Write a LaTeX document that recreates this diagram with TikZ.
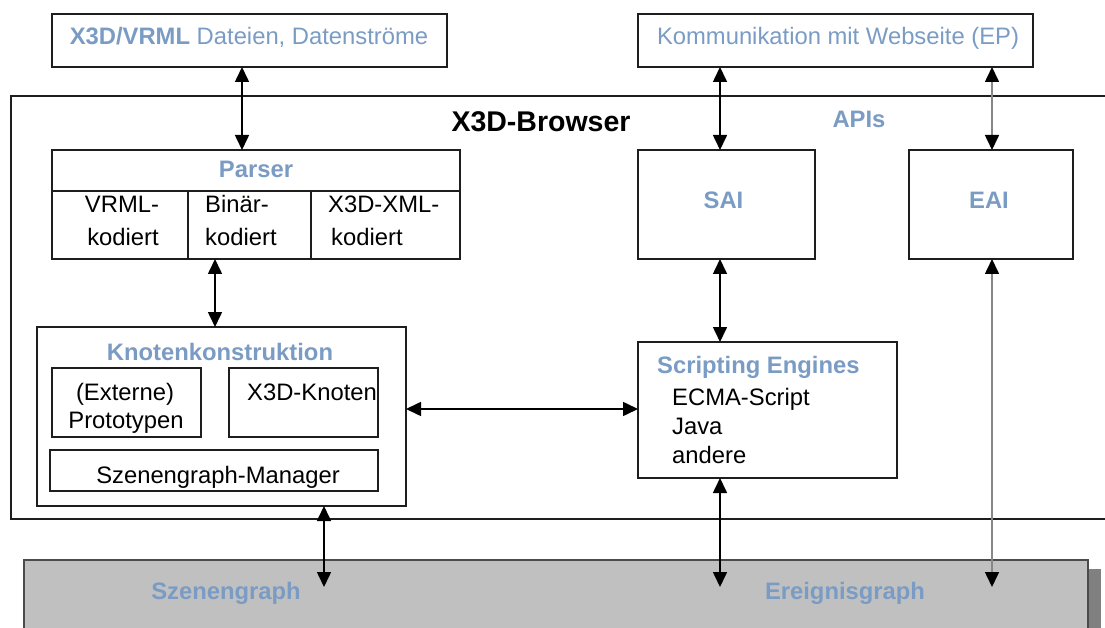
\documentclass[tikz,border=0pt]{standalone}
\usepackage{fontspec}
\setmainfont{Liberation Sans}
\usetikzlibrary{arrows.meta}
\definecolor{apiblue}{RGB}{122,156,196}
\definecolor{boxline}{RGB}{30,30,30}
\definecolor{bandfill}{RGB}{192,192,192}
\definecolor{bandshadow}{RGB}{128,128,128}
\definecolor{greyline}{RGB}{135,135,135}
\begin{document}
\begin{tikzpicture}[x=1pt,y=-1pt,
  box/.style={draw=boxline,line width=1.3pt,fill=white,inner sep=0pt,outer sep=0pt},
  txt/.style={inner sep=0pt,font=\fontsize{23.8}{28}\selectfont,text=black},
  btxt/.style={inner sep=0pt,font=\fontsize{23.8}{28}\selectfont\bfseries,text=apiblue},
  ltxt/.style={inner sep=0pt,font=\fontsize{23.8}{28}\selectfont,text=apiblue},
  biarrow/.style={line width=1.6pt,{Triangle[width=14pt,length=15pt,color=black]}-{Triangle[width=14pt,length=15pt,color=black]}},
  greyarrow/.style={biarrow,draw=greyline}]
\useasboundingbox (0,0) rectangle (1105,628);
\fill[white] (0,0) rectangle (1105,628);

% browser frame (open to the right)
\draw[boxline,line width=1.3pt] (1106,96) -- (11,96) -- (11,519) -- (1106,519);
\node[inner sep=0pt,font=\fontsize{28.5}{32}\selectfont\bfseries,anchor=base] (browser) at (541,132) {X3D-Browser};
\node[btxt,anchor=base] (apis) at (859,128) {APIs};

% external sources
\node[box,minimum width=395pt,minimum height=53pt] (files) at (249.5,40.5) {};
\node[ltxt,anchor=base] (filestxt) at (249,45) {\textbf{X3D/VRML} Dateien, Datenströme};
\node[box,minimum width=395pt,minimum height=53pt] (web) at (835.5,40.5) {};
\node[ltxt,anchor=base] (webtxt) at (838,45) {Kommunikation mit Webseite (EP)};

% parser
\node[box,minimum width=408pt,minimum height=109pt] (parser) at (256,204.5) {};
\draw[boxline,line width=1.3pt] (52,191) -- (460,191);
\draw[boxline,line width=1.3pt] (188,191) -- (188,259);
\draw[boxline,line width=1.3pt] (311,191) -- (311,259);
\draw[boxline,line width=2.8pt] (52,190) -- (52,259.6);
\node[btxt,anchor=base] (parsertxt) at (256,178) {Parser};
\node[txt,anchor=base] (vrmlA) at (122,213) {VRML-};
\node[txt,anchor=base] (vrmlB) at (123,246) {kodiert};
\node[txt,anchor=base west] (binA) at (205,213) {Binär-};
\node[txt,anchor=base west] (binB) at (205,246) {kodiert};
\node[txt,anchor=base west] (xmlA) at (328,213) {X3D-XML-};
\node[txt,anchor=base west] (xmlB) at (331,246) {kodiert};

% API boxes
\node[box,minimum width=177pt,minimum height=109pt] (sai) at (726.5,204.5) {};
\node[btxt,anchor=base] (saitxt) at (723.5,209) {SAI};
\node[box,minimum width=164pt,minimum height=109pt] (eai) at (991,204.5) {};
\node[btxt,anchor=base] (eaitxt) at (989,209) {EAI};

% node construction
\node[box,minimum width=369pt,minimum height=179pt] (knoten) at (221.5,416.5) {};
\node[btxt,anchor=base] (knotentxt) at (220,360) {Knotenkonstruktion};
\node[box,minimum width=149pt,minimum height=69pt] (proto) at (126.5,402.5) {};
\node[txt,anchor=base] (protoA) at (125,400) {(Externe)};
\node[txt,anchor=base] (protoB) at (126,428) {Prototypen};
\node[box,minimum width=149pt,minimum height=69pt] (x3dk) at (303.5,402.5) {};
\node[txt,anchor=base west] (x3dktxt) at (247,400) {X3D-Knoten};
\node[box,minimum width=328pt,minimum height=41pt] (sgm) at (214,470.5) {};
\node[txt,anchor=base] (sgmtxt) at (218,483) {Szenengraph-Manager};

% scripting engines
\node[box,minimum width=259pt,minimum height=136pt] (script) at (767.5,410) {};
\node[btxt,anchor=base west] (scripttxt) at (657,373) {Scripting Engines};
\node[txt,anchor=base west] (ecma) at (672,405) {ECMA-Script};
\node[txt,anchor=base west] (java) at (672,434) {Java};
\node[txt,anchor=base west] (andere) at (672,463) {andere};

% graph band
\fill[bandshadow] (1088,569) rectangle (1101,640);
\draw[draw=boxline!80,line width=1.8pt,fill=bandfill] (24,560) rectangle (1088,640);
\node[btxt,anchor=base] (szg) at (226,599) {Szenengraph};
\node[btxt,anchor=base] (ereig) at (845,599) {Ereignisgraph};

% connector columns and ends
\coordinate (cA) at (242,0);
\coordinate (cB) at (215,0);
\coordinate (cC) at (720,0);
\coordinate (cD) at (992,0);
\coordinate (cE) at (324,0);
\coordinate (rowH) at (0,409);
\coordinate (endSz) at (324,587);
\coordinate (endSc) at (720,587);
\coordinate (endEa) at (992,587);

\draw[biarrow] (files.south -| cA) -- (parser.north -| cA);
\draw[biarrow] (parser.south -| cB) -- (knoten.north -| cB);
\draw[biarrow] (web.south -| cC) -- (sai.north -| cC);
\draw[greyarrow] (web.south -| cD) -- (eai.north -| cD);
\draw[biarrow] (sai.south -| cC) -- (script.north -| cC);
\draw[biarrow] (knoten.east |- rowH) -- (script.west |- rowH);
\draw[biarrow] (knoten.south -| cE) -- (endSz);
\draw[biarrow] (script.south -| cC) -- (endSc);
\draw[greyarrow] (eai.south -| cD) -- (endEa);
\end{tikzpicture}
\end{document}
